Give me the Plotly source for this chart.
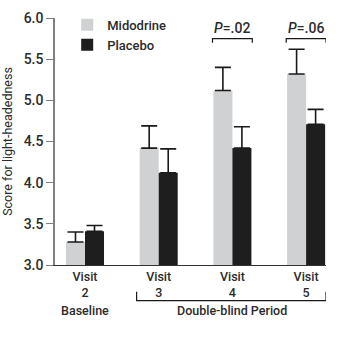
import plotly.graph_objects as go

# Mean light-headedness scores by visit, with upper SE bars
visits = ["2", "3", "4", "5"]
midodrine = [3.28, 4.42, 5.12, 5.32]
midodrine_err = [0.12, 0.27, 0.28, 0.30]
placebo = [3.41, 4.12, 4.42, 4.71]
placebo_err = [0.07, 0.29, 0.26, 0.18]
p_values = {2: "<i>P</i>=.02", 3: "<i>P</i>=.06"}

FONT = "Roboto, Liberation Sans, sans-serif"
TXT = "#2b2b2b"
FS = 12.5
xs = list(range(len(visits)))

fig = go.Figure()
fig.add_bar(
    x=xs, y=midodrine, name="Midodrine", marker_color="#d0d1d3", marker_line_width=0,
    error_y=dict(type="data", array=midodrine_err, arrayminus=[0] * 4, symmetric=False,
                 color="#1a1a1a", thickness=1.6, width=8),
)
fig.add_bar(
    x=xs, y=placebo, name="Placebo", marker_color="#1e1e1e", marker_line_width=0,
    error_y=dict(type="data", array=placebo_err, arrayminus=[0] * 4, symmetric=False,
                 color="#1a1a1a", thickness=1.6, width=8),
)

# significance brackets above visits 4 and 5
for i, label in p_values.items():
    x0, x1, yb = i - 0.27, i + 0.27, 5.75
    fig.add_shape(type="path", xref="x", yref="y",
                  path=f"M{x0},{yb - 0.05} L{x0},{yb} L{x1},{yb} L{x1},{yb - 0.05}",
                  line=dict(color="#1a1a1a", width=1.2))
    fig.add_annotation(x=i, y=yb, yref="y", text=label, showarrow=False, yanchor="bottom",
                       yshift=1, font=dict(family=FONT, size=14, color=TXT, weight=500))

# period labels under the axis
fig.add_shape(type="path", xref="x", yref="paper",
              path="M0.70,-0.108 L0.70,-0.1445 L3.27,-0.1445 L3.27,-0.108",
              line=dict(color="#1a1a1a", width=1.2))
fig.add_annotation(x=0, y=-0.186, xref="x", yref="paper", yanchor="middle", text="Baseline",
                   showarrow=False, font=dict(family=FONT, size=FS, color=TXT, weight=500))
fig.add_annotation(x=2.0, y=-0.186, xref="x", yref="paper", yanchor="middle",
                   text="Double-blind Period", showarrow=False,
                   font=dict(family=FONT, size=FS, color=TXT, weight=500))

fig.update_layout(
    width=344, height=341,
    margin=dict(l=55, r=18, t=18, b=76, autoexpand=False),
    paper_bgcolor="white", plot_bgcolor="white",
    barmode="group", bargap=0.484, bargroupgap=0,
    font=dict(family=FONT, size=FS, color=TXT),
    showlegend=True,
    legend=dict(x=0.045, y=1.033, xanchor="left", yanchor="top", bgcolor="rgba(0,0,0,0)",
                font=dict(family=FONT, size=13, color=TXT, weight=500), tracegroupgap=0,
                itemsizing="constant"),
    xaxis=dict(range=[-0.407, 3.27], tickvals=xs, ticktext=[f"Visit<br>{v}" for v in visits],
               showline=True, linecolor="#333333", linewidth=1.2, ticks="",
               showgrid=False, zeroline=False,
               tickfont=dict(family=FONT, size=FS, color=TXT, weight=500)),
    yaxis=dict(range=[3.0, 6.0], tickvals=[3.0, 3.5, 4.0, 4.5, 5.0, 5.5, 6.0], tickformat=".1f",
               showline=True, linecolor="#808080", linewidth=1.5, ticks="outside",
               ticklen=7, tickcolor="#808080", tickwidth=1.2, showgrid=False, zeroline=False,
               tickfont=dict(family=FONT, size=14, color=TXT, weight=500),
               title=dict(text="Score for light-headedness", standoff=11,
                          font=dict(family=FONT, size=12.5, color=TXT))),
)

fig.write_html("out.html")
